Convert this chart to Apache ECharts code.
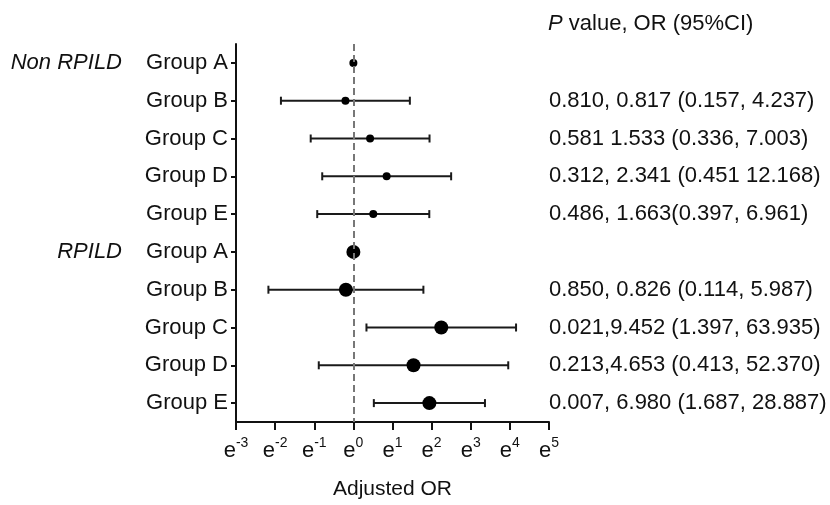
<!DOCTYPE html>
<html>
<head>
<meta charset="UTF-8">
<title>Adjusted OR</title>
<script src="https://cdn.jsdelivr.net/npm/echarts@6/dist/echarts.min.js"></script>
<style>
	body{margin:0;background:#fff;}
	#main{width:830px;height:505px;}
</style>
</head>
<body>
<div id="main"></div>
<script type="text/javascript">
	var groupNames = ['Non RPILD', 'RPILD'];
	var rowNames = ['Group A', 'Group B', 'Group C', 'Group D', 'Group E'];
	// OR with 95% CI, group A is the reference
	var nonOR = [1, 0.817, 1.533, 2.341, 1.663];
	var nonLow = [null, 0.157, 0.336, 0.451, 0.397];
	var nonHigh = [null, 4.237, 7.003, 12.168, 6.961];
	var rpOR = [1, 0.826, 9.452, 4.653, 6.980];
	var rpLow = [null, 0.114, 1.397, 0.413, 1.687];
	var rpHigh = [null, 5.987, 63.935, 52.370, 28.887];
	var nonText = ['', '0.810, 0.817 (0.157, 4.237)', '0.581 1.533 (0.336, 7.003)', '0.312, 2.341 (0.451 12.168)', '0.486, 1.663(0.397, 6.961)'];
	var rpText = ['', '0.850, 0.826 (0.114, 5.987)', '0.021,9.452 (1.397, 63.935)', '0.213,4.653 (0.413, 52.370)', '0.007, 6.980 (1.687, 28.887)'];
	var xMinPow = -3, xMaxPow = 5;

	var categories = rowNames.concat(rowNames);
	var headers = [];
	for (var i = 0; i < categories.length; i++) {
		headers.push(i == 0 ? groupNames[0] : (i == rowNames.length ? groupNames[1] : ''));
	}
	var rightText = nonText.concat(rpText);

	var nonPts = [], rpPts = [], ciData = [];
	for (var i = 0; i < rowNames.length; i++) {
		nonPts.push([nonOR[i], i]);
		rpPts.push([rpOR[i], i + rowNames.length]);
		if (nonLow[i] != null) ciData.push([i, nonLow[i], nonHigh[i]]);
		if (rpLow[i] != null) ciData.push([i + rowNames.length, rpLow[i], rpHigh[i]]);
	}

	var FONT = '"Liberation Sans", Arial, sans-serif';
	var INK = '#111';

	function renderCI(params, api) {
		var y = api.value(0);
		var p1 = api.coord([api.value(1), y]);
		var p2 = api.coord([api.value(2), y]);
		var h = 4;
		var st = {stroke: '#1a1a1a', lineWidth: 2};
		return {type: 'group', children: [
			{type: 'line', shape: {x1: p1[0], y1: p1[1], x2: p2[0], y2: p2[1]}, style: st},
			{type: 'line', shape: {x1: p1[0], y1: p1[1] - h, x2: p1[0], y2: p1[1] + h}, style: st},
			{type: 'line', shape: {x1: p2[0], y1: p2[1] - h, x2: p2[0], y2: p2[1] + h}, style: st}
		]};
	}

	var myChart = echarts.init(document.getElementById('main'));
	var option = {
		animation: false,
		textStyle: {fontFamily: FONT, color: INK},
		title: {
			text: '{i|P} value, OR (95%CI)',
			left: 548, top: 13, padding: 0,
			textStyle: {
				fontSize: 22, fontWeight: 'normal', color: INK, fontFamily: FONT,
				rich: {i: {fontSize: 22, fontStyle: 'italic', color: INK, fontFamily: FONT}}
			}
		},
		grid: {left: 236, right: 281, top: 44, bottom: 83, containLabel: false},
		xAxis: {
			type: 'log',
			logBase: Math.E,
			min: Math.exp(xMinPow),
			max: Math.exp(xMaxPow),
			splitNumber: 8,
			name: 'Adjusted OR',
			nameLocation: 'middle',
			nameGap: 57,
			nameTextStyle: {fontSize: 21, color: INK, fontFamily: FONT},
			axisLine: {show: true, onZero: false, lineStyle: {color: INK, width: 2}},
			axisTick: {show: true, length: 8, lineStyle: {color: INK, width: 2}},
			splitLine: {show: false},
			axisLabel: {
				margin: 14,
				formatter: function (v) { return '{e|e}{s|' + Math.round(Math.log(v)) + '}'; },
				rich: {
					e: {fontSize: 22, lineHeight: 30, color: INK, fontFamily: FONT},
					s: {fontSize: 14, lineHeight: 16, verticalAlign: 'top', color: INK, fontFamily: FONT}
				}
			}
		},
		yAxis: [{
			type: 'category',
			data: categories,
			inverse: true,
			axisLine: {show: true, lineStyle: {color: INK, width: 2}},
			axisTick: {show: true, alignWithLabel: true, length: 5, lineStyle: {color: INK, width: 2}},
			axisLabel: {fontSize: 22, color: INK, margin: 8, fontFamily: FONT}
		}, {
			type: 'category',
			data: headers,
			inverse: true,
			position: 'left',
			offset: 106,
			axisLine: {show: false},
			axisTick: {show: false},
			axisLabel: {fontSize: 22, fontStyle: 'italic', color: INK, margin: 8, fontFamily: FONT}
		}, {
			type: 'category',
			data: rightText,
			inverse: true,
			position: 'right',
			axisLine: {show: false},
			axisTick: {show: false},
			axisLabel: {fontSize: 22, color: INK, margin: 0, align: 'left', fontFamily: FONT}
		}],
		series: [{
			type: 'custom',
			renderItem: renderCI,
			data: ciData,
			encode: {y: 0, x: [1, 2]},
			z: 3
		}, {
			type: 'scatter',
			data: nonPts,
			symbolSize: 8,
			itemStyle: {color: '#000', opacity: 1},
			z: 4,
			markLine: {
				silent: true,
				symbol: 'none',
				label: {show: false},
				lineStyle: {type: [7, 4], color: '#777', width: 2},
				data: [{xAxis: 1}]
			}
		}, {
			type: 'scatter',
			data: rpPts,
			symbolSize: 14,
			itemStyle: {color: '#000', opacity: 1},
			z: 4
		}]
	};
	myChart.setOption(option);
</script>
</body>
</html>
